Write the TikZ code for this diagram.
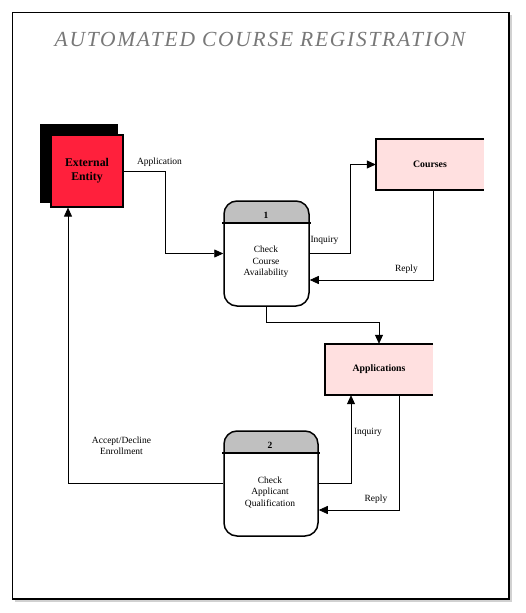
\documentclass[tikz,border=0pt]{standalone}
\usepackage{fontspec}
\setmainfont{Liberation Serif}
\usetikzlibrary{arrows.meta,calc}
\definecolor{redent}{RGB}{255,32,60}
\definecolor{pinkstore}{RGB}{255,224,224}
\definecolor{headgray}{RGB}{192,192,192}
\definecolor{titlegray}{RGB}{120,120,120}
\begin{document}
\begin{tikzpicture}[x=1pt,y=-1pt,
  flow/.style={draw=black,line width=0.8pt,-{Triangle[length=9pt,width=8pt]}},
  lbl/.style={font=\fontsize{9.5}{11}\selectfont,inner sep=0pt,align=center},
  ptext/.style={font=\fontsize{9.5}{11.5}\selectfont,inner sep=0pt,align=center},
  proc/.style={draw=black,line width=1.5pt,rounded corners=13pt,inner sep=0pt},
  storefill/.style={fill=pinkstore,inner sep=0pt,font=\bfseries\fontsize{9.8}{11}\selectfont},
  storeedge/.style={draw=black,line width=1.8pt}]
\useasboundingbox (0,0) rectangle (525,613);
% frame with shadow
\fill[black!18] (15,15) rectangle (512,602);
\fill[white] (12.5,12.5) rectangle (509,599);
\draw[line width=1.3pt,black] (12.5,12.5) rectangle (509,599);
% title
\node[font=\itshape\fontsize{21.5}{24}\selectfont\addfontfeature{LetterSpace=8},text=titlegray,inner sep=0pt] (title) at (260,39) {AUTOMATED COURSE REGISTRATION};
% external entity
\fill[black] (40,124) rectangle (118,203);
\node[draw=black,line width=1.2pt,fill=redent,minimum width=72pt,minimum height=72pt,inner sep=0pt,align=center,font=\bfseries\fontsize{11.8}{14}\selectfont] (ext) at (87,171) {External\\Entity};
% data stores
\node[storefill,minimum width=108pt,minimum height=51pt] (courses) at (430,164.5) {Courses};
\draw[storeedge] (courses.north east) -- (courses.north west) -- (courses.south west) -- (courses.south east);
\node[storefill,minimum width=108pt,minimum height=51pt] (apps) at (379,369.5) {Applications};
\draw[storeedge] (apps.north east) -- (apps.north west) -- (apps.south west) -- (apps.south east);
% process 1
\fill[headgray] (224,223) [rounded corners=13pt] -- (224,201) -- (309,201) [sharp corners] -- (309,223) -- cycle;
\node[proc,minimum width=85pt,minimum height=105pt] (p1) at (266.5,253.5) {};
\draw[line width=1.8pt] (222,223) -- (311,223);
\node[font=\bfseries\fontsize{9.5}{11}\selectfont,inner sep=0pt] (p1n) at (266,215) {1};
\node[ptext] (p1t) at (266,262) {Check\\Course\\Availability};
% process 2
\fill[headgray] (224,453) [rounded corners=13pt] -- (224,431) -- (318,431) [sharp corners] -- (318,453) -- cycle;
\node[proc,minimum width=94pt,minimum height=105pt] (p2) at (271,483.5) {};
\draw[line width=1.8pt] (222,453) -- (320,453);
\node[font=\bfseries\fontsize{9.5}{11}\selectfont,inner sep=0pt] (p2n) at (270,445) {2};
\node[ptext] (p2t) at (270,492) {Check\\Applicant\\Qualification};
% connectors
\draw[flow] (ext.east) -- (165,171) |- (p1.west);
\draw[flow] (p1.east) -- (350,253.5) |- (courses.west);
\draw[flow] ([xshift=3pt]courses.south) -- (433,280) -- (p1.east |- 0,280);
\draw[flow] (p1.south) -- (266.5,322) -| (apps.north);
\draw[flow] (p2.east) -| ([xshift=-28pt]apps.south);
\draw[flow] ([xshift=20pt]apps.south) |- (p2.east |- 0,510);
\draw[flow] (p2.west) -| ([xshift=-19pt]ext.south);
% labels
\node[lbl] (l1) at (159.5,162) {Application};
\node[lbl] (l2) at (324.5,240) {Inquiry};
\node[lbl] (l3) at (406.5,269.5) {Reply};
\node[lbl] (l4) at (368,432) {Inquiry};
\node[lbl] (l5) at (376,499) {Reply};
\node[lbl] (l6) at (121.5,445.5) {Accept/Decline\\Enrollment};
\end{tikzpicture}
\end{document}
